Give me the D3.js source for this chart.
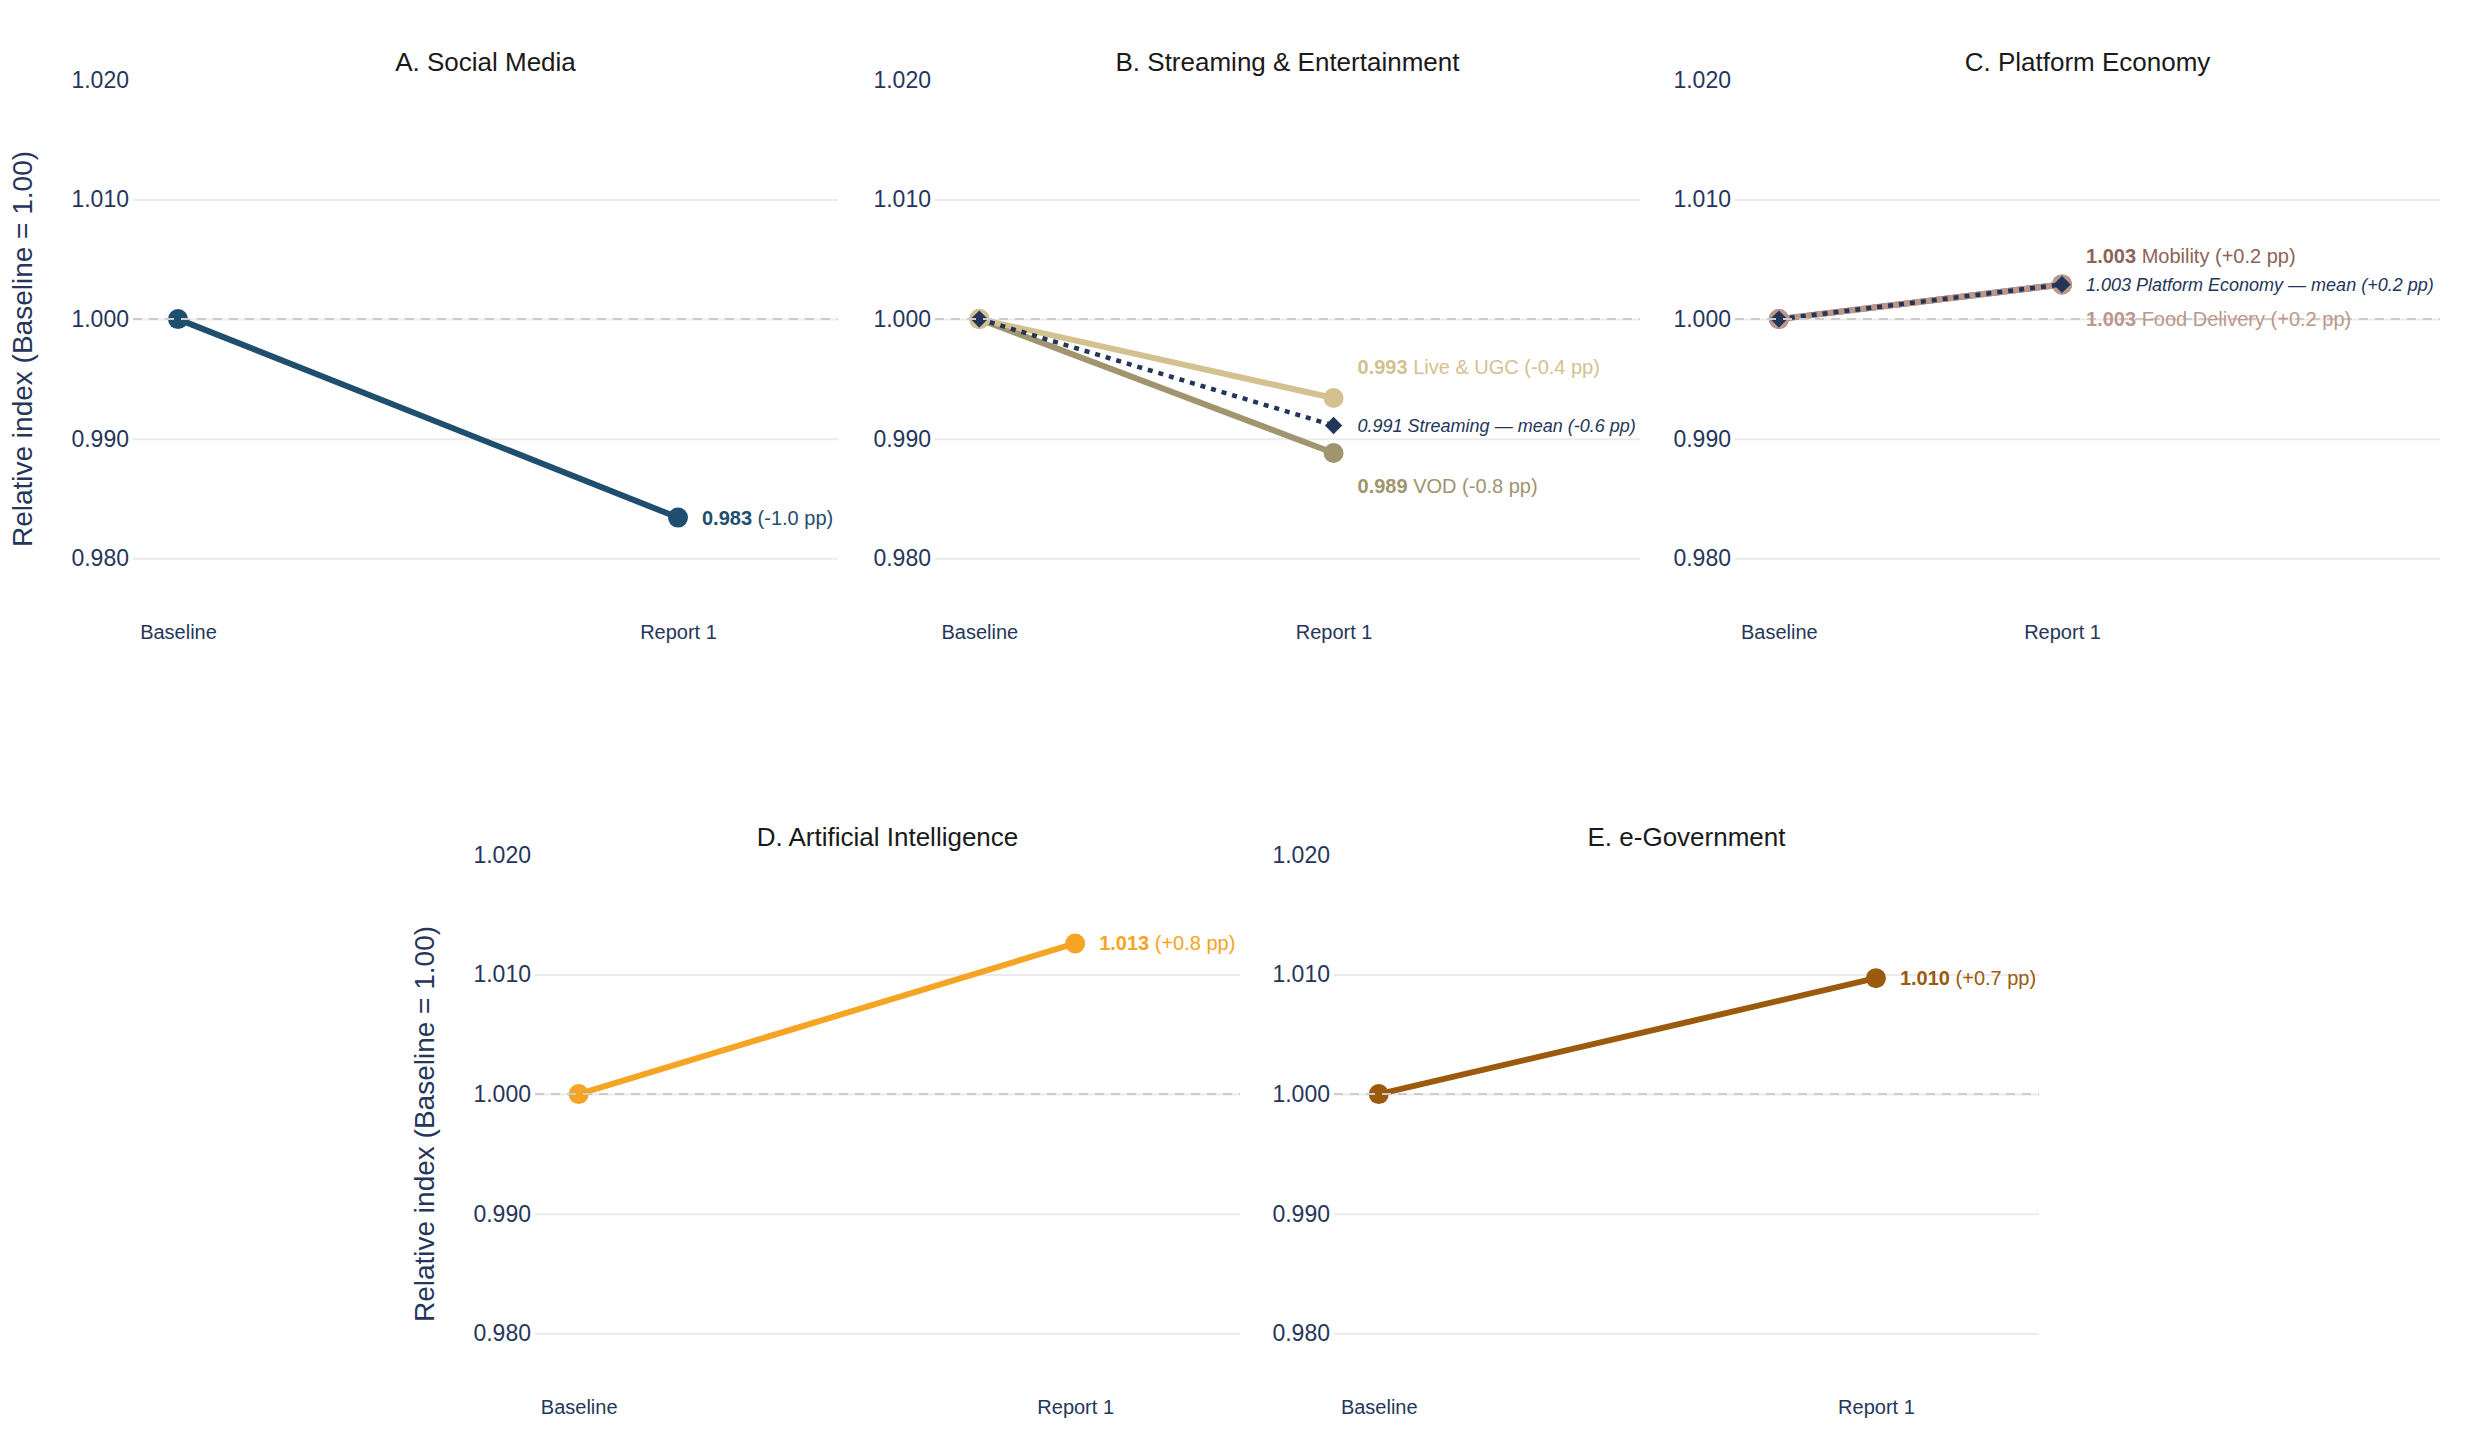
<!DOCTYPE html>
<html>
<head>
<meta charset="utf-8">
<script src="https://cdn.jsdelivr.net/npm/d3@7"></script>
<style>
  body { margin: 0; background: #fff; }
  svg { display: block; font-family: "Liberation Sans", Arial, Helvetica, sans-serif; }
</style>
</head>
<body>
<svg width="2480" height="1440"></svg>
<script>
// data
var periods = ["Baseline", "Report 1"];
var yTickValues = [0.980, 0.990, 1.000, 1.010, 1.020];
var panelTitles = ["A. Social Media", "B. Streaming & Entertainment", "C. Platform Economy",
                   "D. Artificial Intelligence", "E. e-Government"];

var socialMedia = [1.000, 0.9834];
var liveUgc = [1.000, 0.9934];
var vod = [1.000, 0.9888];
var streamingMean = [1.000, 0.9911];
var mobility = [1.000, 1.0029];
var foodDelivery = [1.000, 1.0029];
var platformMean = [1.000, 1.0029];
var artificialIntelligence = [1.000, 1.0126];
var eGovernment = [1.000, 1.0097];

var seriesNames = ["", "Live & UGC", "VOD", "Streaming — mean", "Mobility", "Food Delivery",
                   "Platform Economy — mean", "", ""];
var ppChanges = ["-1.0", "-0.4", "-0.8", "-0.6", "+0.2", "+0.2", "+0.2", "+0.8", "+0.7"];

// series table (drawing order inside each panel)
var series = [
  {panel: 0, values: socialMedia, name: seriesNames[0], pp: ppChanges[0], color: "#1f4e6f", mean: false, shift: 0},
  {panel: 1, values: vod, name: seriesNames[2], pp: ppChanges[2], color: "#a0956e", mean: false, shift: 33},
  {panel: 1, values: liveUgc, name: seriesNames[1], pp: ppChanges[1], color: "#d3c18f", mean: false, shift: -31},
  {panel: 1, values: streamingMean, name: seriesNames[3], pp: ppChanges[3], color: "#233659", mean: true, shift: 0},
  {panel: 2, values: mobility, name: seriesNames[4], pp: ppChanges[4], color: "#8d6357", mean: false, shift: -28},
  {panel: 2, values: foodDelivery, name: seriesNames[5], pp: ppChanges[5], color: "#bd978a", mean: false, shift: 35},
  {panel: 2, values: platformMean, name: seriesNames[6], pp: ppChanges[6], color: "#233659", mean: true, shift: 0},
  {panel: 3, values: artificialIntelligence, name: seriesNames[7], pp: ppChanges[7], color: "#f5a423", mean: false, shift: 0},
  {panel: 4, values: eGovernment, name: seriesNames[8], pp: ppChanges[8], color: "#9b5a0d", mean: false, shift: 0}
];

// layout
var panels = [
  {left: 133, top: 80, xDomain: [-0.09, 1.32], yTitle: true},
  {left: 935, top: 80, xDomain: [-0.125, 1.865], yTitle: false},
  {left: 1735, top: 80, xDomain: [-0.155, 2.335], yTitle: false},
  {left: 535, top: 855, xDomain: [-0.088, 1.332], yTitle: true},
  {left: 1334, top: 855, xDomain: [-0.09, 1.328], yTitle: false}
];
var width = 705, height = 538;

var svg = d3.select("svg");
var fmt = d3.format(".3f");

panels.forEach(function(p, i) {
  var g = svg.append("g").attr("transform", "translate(" + p.left + "," + p.top + ")");

  var x = d3.scaleLinear().domain(p.xDomain).range([0, width]);
  var y = d3.scaleLinear().domain([0.975, 1.020]).range([height, 0]);

  // y axis with grid
  var yAxis = g.append("g")
      .call(d3.axisLeft(y).tickValues(yTickValues).tickSize(-width).tickPadding(4).tickFormat(fmt));
  yAxis.select(".domain").remove();
  yAxis.selectAll(".tick line")
      .attr("stroke", "#ebebeb")
      .attr("stroke-width", 2)
      .attr("display", function(d) { return d >= 1.02 ? "none" : null; });
  yAxis.selectAll(".tick text")
      .attr("fill", "#25365a")
      .style("font-size", "23px");

  // x axis
  var xAxis = g.append("g")
      .attr("transform", "translate(0," + height + ")")
      .call(d3.axisBottom(x).tickValues([0, 1]).tickSize(0).tickPadding(7)
        .tickFormat(function(d) { return periods[d]; }));
  xAxis.select(".domain").remove();
  xAxis.selectAll(".tick text")
      .attr("fill", "#25365a")
      .style("font-size", "20px");

  // title
  g.append("text")
      .attr("x", width / 2)
      .attr("y", -9)
      .attr("text-anchor", "middle")
      .attr("fill", "#1a1a1a")
      .style("font-size", "26px")
      .text(panelTitles[i]);

  if (p.yTitle) {
    g.append("text")
        .attr("transform", "translate(" + (-111) + "," + (height / 2) + ") rotate(-90)")
        .attr("text-anchor", "middle")
        .attr("dy", "0.35em")
        .attr("fill", "#25365a")
        .style("font-size", "28px")
        .text("Relative index (Baseline = 1.00)");
  }

  var line = d3.line()
      .x(function(d, j) { return x(j); })
      .y(function(d) { return y(d); });

  var mine = series.filter(function(s) { return s.panel === i; });

  // solid lines + circles
  mine.filter(function(s) { return !s.mean; }).forEach(function(s) {
    g.append("path")
        .datum(s.values)
        .attr("d", line)
        .attr("fill", "none")
        .attr("stroke", s.color)
        .attr("stroke-width", 6);
    g.selectAll(null)
        .data(s.values)
        .enter().append("circle")
        .attr("cx", function(d, j) { return x(j); })
        .attr("cy", function(d) { return y(d); })
        .attr("r", 10)
        .attr("fill", s.color);
  });

  // mean lines (dotted) + diamonds
  mine.filter(function(s) { return s.mean; }).forEach(function(s) {
    g.append("path")
        .datum(s.values)
        .attr("d", line)
        .attr("fill", "none")
        .attr("stroke", s.color)
        .attr("stroke-width", 4.5)
        .attr("stroke-dasharray", "5,6");
    g.selectAll(null)
        .data(s.values)
        .enter().append("path")
        .attr("d", d3.symbol(d3.symbolSquare, 150))
        .attr("transform", function(d, j) {
          return "translate(" + x(j) + "," + y(d) + ") rotate(45)";
        })
        .attr("fill", s.color);
  });

  // reference line at 1.000
  g.append("line")
      .attr("x1", 0)
      .attr("x2", width)
      .attr("y1", y(1))
      .attr("y2", y(1))
      .attr("stroke", "#cccccc")
      .attr("stroke-width", 2)
      .attr("stroke-dasharray", "9,7");

  // end labels
  mine.forEach(function(s) {
    var last = s.values.length - 1;
    var t = g.append("text")
        .attr("x", x(last) + 24)
        .attr("y", y(s.values[last]) + s.shift)
        .attr("dy", "0.35em")
        .attr("fill", s.color)
        .style("font-size", s.mean ? "18px" : "20px");
    if (s.mean) {
      t.style("font-style", "italic")
          .text(fmt(s.values[last]) + " " + s.name + " (" + s.pp + " pp)");
    } else {
      t.append("tspan").style("font-weight", "bold").text(fmt(s.values[last]));
      t.append("tspan").text(" " + (s.name ? s.name + " " : "") + "(" + s.pp + " pp)");
    }
  });
});
</script>
</body>
</html>
